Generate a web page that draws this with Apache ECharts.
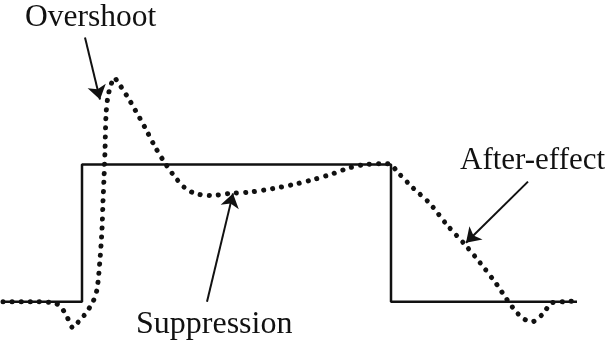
<!DOCTYPE html>
<html>
<head>
<meta charset="utf-8">
<script src="https://cdn.jsdelivr.net/npm/echarts@6/dist/echarts.min.js"></script>
<style>
  html, body { margin: 0; padding: 0; background: #fff; }
  #chart { width: 608px; height: 347px; }
</style>
</head>
<body>
<div id="chart"></div>
<script>
  // stimulus: square pulse (time, amplitude)
  var stepTime = [3, 82, 82, 391, 391, 577];
  var stepAmp = [0, 0, 1, 1, 0, 0];

  // response (dotted)
  var respTime = [3, 30, 55, 62, 67, 73, 78, 83, 88, 93, 97, 100, 102, 103, 104, 105, 106, 108, 111, 114,
    118, 127, 135, 145, 155, 166, 176, 185, 195, 210, 230, 250, 273, 293, 313, 333, 350, 365, 383, 391,
    397, 413, 430, 447, 465, 480, 497, 507, 517, 525, 532, 543, 552, 565, 577];
  var respAmp = [0, 0, -0.01, -0.05, -0.11, -0.19, -0.15, -0.11, -0.06, 0, 0.09, 0.31, 0.53, 0.73, 0.9, 1.1, 1.36, 1.5, 1.58, 1.635,
    1.6, 1.5, 1.4, 1.27, 1.13, 1.0, 0.9, 0.83, 0.79, 0.774, 0.79, 0.8, 0.825, 0.854, 0.89, 0.934, 0.978, 1.0, 1.007, 1.0,
    0.95, 0.83, 0.715, 0.56, 0.416, 0.285, 0.124, 0.015, -0.08, -0.13, -0.146, -0.088, -0.007, 0, 0.007];

  // annotation arrows: [fromTime, fromAmp, toTime, toAmp]
  var arrowOvershoot = [85, 1.927, 100, 1.474];
  var arrowSuppression = [207, 0.0, 233, 0.79];
  var arrowAfter = [528, 0.876, 466, 0.43];

  var labels = ['Overshoot', 'Suppression', 'After-effect'];

  var ink = '#111';

  function pairs(xs, ys) {
    var out = [];
    for (var i = 0; i < xs.length; i++) out.push([xs[i], ys[i]]);
    return out;
  }
  function arrow(a) {
    return { coords: [[a[0], a[1]], [a[2], a[3]]] };
  }

  var myChart = echarts.init(document.getElementById('chart'));
  var option = {
    backgroundColor: '#fff',
    animation: false,
    grid: { left: 0, right: 0, top: 0, bottom: 0 },
    xAxis: { type: 'value', min: 0, max: 608, show: false },
    yAxis: { type: 'value', min: -0.33, max: 2.2, show: false },
    graphic: [
      { type: 'text', left: 25, top: 2,
        style: { text: labels[0], font: '31.5px "Liberation Serif"', fill: ink } },
      { type: 'text', left: 136, top: 309,
        style: { text: labels[1], font: '32px "Liberation Serif"', fill: ink } },
      { type: 'text', left: 460, top: 145,
        style: { text: labels[2], font: '31px "Liberation Serif"', fill: ink } }
    ],
    series: [
      {
        name: 'stimulus',
        type: 'line',
        data: pairs(stepTime, stepAmp),
        symbol: 'none',
        lineStyle: { color: ink, width: 2.5 }
      },
      {
        name: 'response',
        type: 'line',
        data: pairs(respTime, respAmp),
        symbol: 'none',
        smooth: 0.3,
        lineStyle: { color: ink, width: 5, type: [0.1, 9], cap: 'round' }
      },
      {
        name: 'arrows',
        type: 'lines',
        coordinateSystem: 'cartesian2d',
        symbol: ['none', 'arrow'],
        symbolSize: [8, 14],
        lineStyle: { color: ink, width: 2, opacity: 1 },
        data: [arrow(arrowOvershoot), arrow(arrowSuppression), arrow(arrowAfter)]
      }
    ]
  };
  myChart.setOption(option);
</script>
</body>
</html>
